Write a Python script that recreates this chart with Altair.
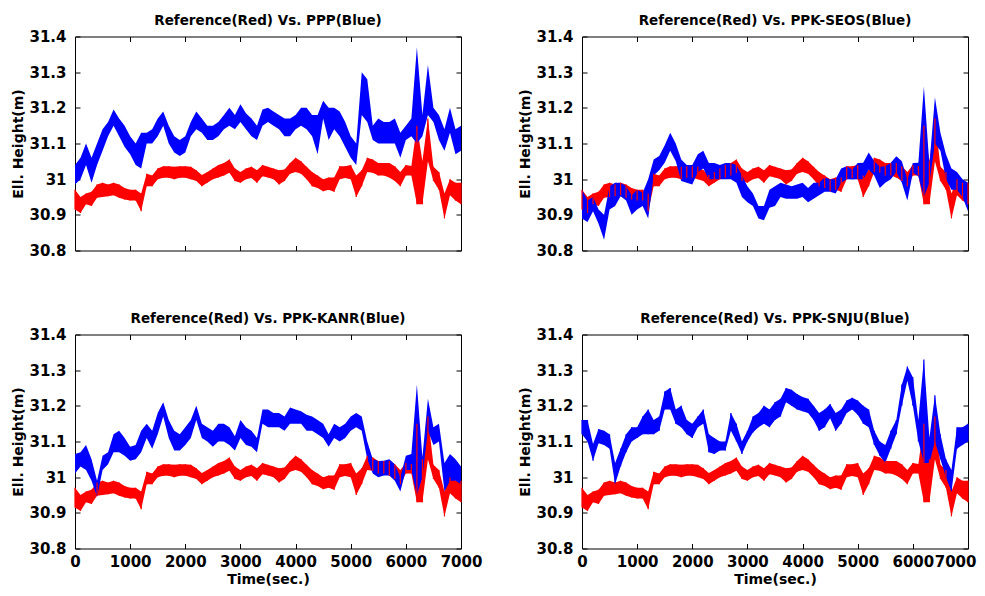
import altair as alt
import pandas as pd

# time axis (s), sampled every 100 s
T = list(range(0, 7001, 100))

# Reference (red) band: lower / upper envelope of the dots
REF_LO = [30.915, 30.905, 30.93, 30.925, 30.948, 30.95, 30.952, 30.955, 30.948, 30.943,
          30.94, 30.94, 30.91, 30.98, 30.98, 31.0, 31.004, 31.004, 31.0, 31.004,
          31.004, 31.0, 30.995, 30.98, 30.99, 31.0, 31.005, 31.01, 31.018, 30.995,
          30.99, 31.0, 31.003, 30.99, 31.008, 31.005, 31.0, 30.985, 30.995, 31.015,
          31.02, 31.015, 31.0, 30.98, 30.975, 30.966, 30.97, 30.965, 31.0, 31.003,
          31.0, 30.95, 30.98, 31.02, 31.018, 31.01, 31.01, 31.005, 30.995, 30.98,
          31.01, 31.01, 30.93, 30.93, 31.05, 30.995, 30.97, 30.89, 30.955, 30.94,
          30.93]
REF_HI = [30.97, 30.95, 30.96, 30.965, 30.985, 30.99, 30.985, 30.99, 30.985, 30.975,
          30.97, 30.97, 30.96, 31.015, 31.01, 31.03, 31.036, 31.036, 31.035, 31.036,
          31.036, 31.035, 31.025, 31.012, 31.02, 31.03, 31.04, 31.045, 31.055, 31.03,
          31.02, 31.03, 31.035, 31.025, 31.04, 31.035, 31.03, 31.025, 31.027, 31.045,
          31.06, 31.05, 31.035, 31.02, 31.01, 31.0, 31.005, 31.005, 31.036, 31.036,
          31.04, 31.01, 31.025, 31.06, 31.055, 31.045, 31.045, 31.045, 31.036, 31.02,
          31.04, 31.037, 31.15, 31.05, 31.17, 31.035, 31.02, 30.96, 31.0, 30.99,
          30.99]

# PPP (blue)
PPP_LO = [30.985, 31.0, 31.04, 30.99, 31.04, 31.08, 31.12, 31.15, 31.12, 31.09,
          31.07, 31.04, 31.03, 31.1, 31.1, 31.12, 31.15, 31.1, 31.075, 31.065,
          31.075, 31.12, 31.14, 31.13, 31.11, 31.11, 31.12, 31.14, 31.15, 31.14,
          31.16, 31.14, 31.12, 31.11, 31.15, 31.16, 31.15, 31.14, 31.12, 31.12,
          31.14, 31.15, 31.14, 31.12, 31.07, 31.17, 31.11, 31.14, 31.12, 31.09,
          31.06, 31.04, 31.18, 31.16, 31.11, 31.1, 31.1, 31.1, 31.1, 31.06,
          31.11, 31.12, 31.1, 31.12, 31.18, 31.16, 31.11, 31.08, 31.13, 31.07,
          31.08]
PPP_HI = [31.04, 31.06, 31.1, 31.06, 31.1, 31.14, 31.16, 31.195, 31.17, 31.15,
          31.12, 31.1, 31.13, 31.13, 31.14, 31.17, 31.19, 31.15, 31.12, 31.11,
          31.12, 31.16, 31.19, 31.17, 31.15, 31.15, 31.16, 31.18, 31.2, 31.18,
          31.21, 31.185, 31.17, 31.15, 31.195, 31.2, 31.19, 31.18, 31.17, 31.17,
          31.18, 31.2, 31.2, 31.18, 31.18, 31.22, 31.2, 31.2, 31.19, 31.16,
          31.12, 31.1, 31.3, 31.28, 31.15, 31.17, 31.16, 31.16, 31.17, 31.13,
          31.15, 31.17, 31.37, 31.18, 31.32, 31.2, 31.18, 31.14, 31.2, 31.14,
          31.15]

# PPK-SEOS (blue)
SEOS_LO = [30.89, 30.88, 30.91, 30.875, 30.83, 30.915, 30.925, 30.952, 30.94, 30.9,
           30.915, 30.925, 30.89, 31.01, 31.025, 31.046, 31.08, 31.05, 30.995, 30.99,
           30.985, 31.02, 31.03, 31.0, 31.0, 31.0, 31.0, 31.0, 30.99, 30.95,
           30.935, 30.925, 30.89, 30.885, 30.92, 30.925, 30.95, 30.945, 30.945, 30.945,
           30.95, 30.935, 30.945, 30.955, 30.965, 30.965, 30.96, 30.99, 31.0, 30.999,
           31.0, 31.0, 31.027, 31.01, 30.975, 30.99, 31.0, 31.02, 30.99, 30.94,
           31.018, 31.008, 30.95, 30.99, 31.1, 31.08, 31.0, 30.97, 30.97, 30.95,
           30.91]
SEOS_HI = [30.97, 30.94, 30.95, 30.915, 30.9, 30.98, 30.99, 30.99, 30.98, 30.955,
           30.97, 30.962, 31.0, 31.055, 31.065, 31.095, 31.13, 31.1, 31.055, 31.04,
           31.04, 31.07, 31.08, 31.045, 31.045, 31.04, 31.045, 31.045, 31.04, 31.01,
           30.98, 30.96, 30.925, 30.925, 30.97, 30.98, 30.99, 30.985, 30.98, 30.985,
           30.99, 30.975, 30.99, 30.99, 31.005, 31.0, 31.0, 31.03, 31.036, 31.027,
           31.045, 31.046, 31.075, 31.05, 31.035, 31.036, 31.046, 31.064, 31.05, 31.0,
           31.045, 31.046, 31.26, 31.04, 31.23, 31.13, 31.07, 31.03, 31.02, 31.0,
           30.99]

# PPK-KANR (blue)
KANR_LO = [31.01, 31.03, 31.02, 30.99, 30.945, 31.02, 31.036, 31.07, 31.07, 31.06,
           31.046, 31.05, 31.07, 31.11, 31.08, 31.12, 31.17, 31.11, 31.075, 31.075,
           31.09, 31.11, 31.16, 31.11, 31.1, 31.085, 31.1, 31.1, 31.09, 31.075,
           31.11, 31.09, 31.085, 31.07, 31.15, 31.14, 31.14, 31.14, 31.13, 31.15,
           31.15, 31.15, 31.13, 31.13, 31.12, 31.11, 31.085, 31.11, 31.1, 31.11,
           31.13, 31.14, 31.13, 31.05, 31.01, 31.0, 31.005, 31.005, 30.99, 30.96,
           31.02, 31.02, 30.95, 31.0, 31.13, 31.09, 31.1, 30.96, 30.99, 30.99,
           30.98]
KANR_HI = [31.065, 31.07, 31.09, 31.05, 30.99, 31.06, 31.07, 31.12, 31.13, 31.11,
           31.085, 31.09, 31.13, 31.15, 31.13, 31.18, 31.21, 31.16, 31.13, 31.12,
           31.14, 31.16, 31.2, 31.15, 31.14, 31.13, 31.15, 31.15, 31.14, 31.115,
           31.16, 31.14, 31.13, 31.11, 31.19, 31.19, 31.18, 31.18, 31.17, 31.195,
           31.19, 31.185, 31.175, 31.17, 31.16, 31.15, 31.12, 31.15, 31.14, 31.15,
           31.17, 31.18, 31.17, 31.1, 31.05, 31.045, 31.046, 31.05, 31.036, 31.0,
           31.06, 31.065, 31.26, 31.055, 31.22, 31.14, 31.15, 31.04, 31.065, 31.05,
           31.03]

# PPK-SNJU (blue)
SNJU_LO = [31.12, 31.1, 31.046, 31.095, 31.09, 31.08, 30.98, 31.03, 31.07, 31.1,
           31.11, 31.12, 31.12, 31.12, 31.13, 31.19, 31.19, 31.15, 31.14, 31.12,
           31.11, 31.14, 31.15, 31.07, 31.065, 31.075, 31.075, 31.13, 31.1, 31.065,
           31.1, 31.125, 31.14, 31.15, 31.14, 31.16, 31.17, 31.21, 31.2, 31.19,
           31.185, 31.18, 31.16, 31.13, 31.14, 31.165, 31.13, 31.15, 31.18, 31.19,
           31.175, 31.15, 31.14, 31.09, 31.06, 31.04, 31.08, 31.12, 31.2, 31.27,
           31.2, 31.1, 31.04, 31.04, 31.1, 31.05, 31.0, 30.96, 31.08, 31.09,
           31.1]
SNJU_HI = [31.16, 31.16, 31.093, 31.135, 31.13, 31.12, 31.04, 31.08, 31.12, 31.14,
           31.14, 31.17, 31.19, 31.16, 31.17, 31.24, 31.25, 31.19, 31.2, 31.16,
           31.15, 31.17, 31.19, 31.12, 31.11, 31.1, 31.1, 31.18, 31.15, 31.1,
           31.13, 31.17, 31.18, 31.2, 31.19, 31.21, 31.22, 31.25, 31.245, 31.233,
           31.225, 31.22, 31.2, 31.18, 31.19, 31.205, 31.18, 31.19, 31.215, 31.223,
           31.215, 31.2, 31.19, 31.13, 31.1, 31.09, 31.13, 31.16, 31.26, 31.31,
           31.28, 31.16, 31.33, 31.11, 31.23, 31.12, 31.05, 31.02, 31.14, 31.14,
           31.15]

TITLES = ["Reference(Red) Vs. PPP(Blue)", "Reference(Red) Vs. PPK-SEOS(Blue)",
          "Reference(Red) Vs. PPK-KANR(Blue)", "Reference(Red) Vs. PPK-SNJU(Blue)"]
X_TICKS = [0, 1000, 2000, 3000, 4000, 5000, 6000, 7000]
Y_TICKS = [30.8, 30.9, 31.0, 31.1, 31.2, 31.3, 31.4]

W, H = 386, 214
FONT = "DejaVu Sans"
RED, BLUE = "#ff0000", "#0000ff"

xs = alt.Scale(domain=[0, 7000], nice=False, zero=False)
ys = alt.Scale(domain=[30.8, 31.4], nice=False, zero=False)


def tick_axis(orient, values, off):
    return alt.Axis(orient=orient, offset=off, values=values, labels=False,
                    domain=False, grid=False, ticks=True, tickSize=5,
                    tickColor="black", tickWidth=1, title=None)


def panel(title, lo, hi, bottom_row, right_edge=False):
    df = pd.DataFrame({"t": T, "rlo": REF_LO, "rhi": REF_HI, "blo": lo, "bhi": hi})
    base = alt.Chart(df)

    x_vals = X_TICKS[:-1] if right_edge else X_TICKS
    x_lab = alt.Axis(orient="bottom", values=x_vals, ticks=False, tickSize=0,
                     domain=False, grid=False, labels=bottom_row,
                     labelOverlap=False, labelFlush=False,
                     labelPadding=6, titlePadding=3, format="d",
                     title="Time(sec.)" if bottom_row else None)
    y_lab = alt.Axis(orient="left", values=Y_TICKS, ticks=False, tickSize=0,
                     domain=False, grid=False, labelPadding=9, titlePadding=3,
                     labelOverlap=False, labelFlush=False,
                     format="~g", title="Ell. Height(m)")

    red = base.mark_area(color=RED, opacity=1).encode(
        x=alt.X("t:Q", scale=xs, axis=x_lab),
        y=alt.Y("rlo:Q", scale=ys, axis=y_lab),
        y2="rhi:Q",
    )
    blue = base.mark_area(color=BLUE, opacity=1).encode(
        x=alt.X("t:Q", scale=xs, axis=tick_axis("top", X_TICKS, -H)),
        y=alt.Y("blo:Q", scale=ys, axis=tick_axis("right", Y_TICKS, -W)),
        y2="bhi:Q",
    )
    red_dots = base.mark_rule(color=RED, strokeWidth=1.2).encode(
        x=alt.X("t:Q", scale=xs, axis=tick_axis("bottom", X_TICKS, -H)),
        y=alt.Y("rlo:Q", scale=ys, axis=tick_axis("left", Y_TICKS, -W)),
        y2="rhi:Q",
    )
    layers = [red, blue]
    if right_edge:
        # the last label sits at the page edge: keep it right-aligned inside the window
        edge_axis = alt.Axis(orient="bottom", values=X_TICKS[-1:], ticks=False,
                             tickSize=0, domain=False, grid=False, labelOverlap=False,
                             labelFlush=True, labelFlushOffset=8, labelPadding=6,
                             format="d", title=None)
        layers.append(base.mark_rule(color=BLUE, strokeWidth=1.2).encode(
            x=alt.X("t:Q", scale=xs, axis=edge_axis),
            y=alt.Y("blo:Q", scale=ys, axis=None),
            y2="bhi:Q",
        ))
    layers.append(red_dots)
    return alt.layer(*layers).resolve_axis(
        x="independent", y="independent"
    ).properties(
        width=W, height=H,
        title=alt.TitleParams(title, font=FONT, fontSize=13.5, fontWeight="bold",
                              color="black", offset=2.5),
    )


p1 = panel(TITLES[0], PPP_LO, PPP_HI, False)
p2 = panel(TITLES[1], SEOS_LO, SEOS_HI, False)
p3 = panel(TITLES[2], KANR_LO, KANR_HI, True)
p4 = panel(TITLES[3], SNJU_LO, SNJU_HI, True, right_edge=True)

chart = alt.concat(
    p1, p2, p3, p4, columns=2, bounds="flush",
    spacing={"row": 84, "column": 121},
).properties(
    padding={"left": 3, "top": 4.5, "right": 0, "bottom": 0},
    background="white",
).configure_view(
    stroke="black", strokeWidth=1
).configure_axis(
    labelFont=FONT, labelFontSize=15, labelFontWeight="bold", labelColor="black",
    titleFont=FONT, titleFontSize=14, titleFontWeight="bold", titleColor="black",
)

chart.save("out.html", embed_options={"renderer": "svg", "actions": False})
